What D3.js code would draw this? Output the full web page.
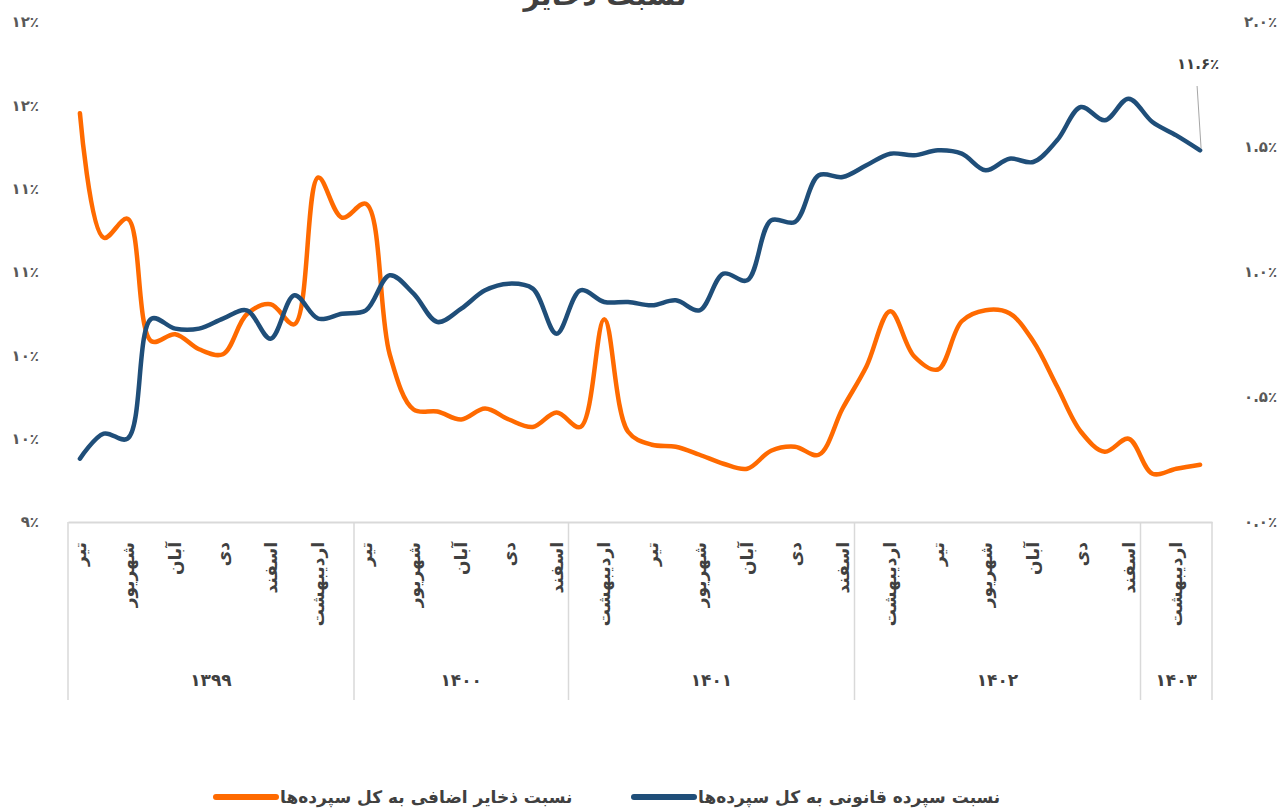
<!DOCTYPE html>
<html>
<head>
<meta charset="utf-8">
<script src="https://cdn.jsdelivr.net/npm/d3@7"></script>
<style>
  body { margin: 0; background: #fff; }
  svg { display: block; font-family: "DejaVu Sans", sans-serif; }
</style>
</head>
<body>
<div id="chart"></div>
<script>
// categories (months, grouped by year as in the source chart)
const months = [
  'تیر', 'مرداد', 'شهریور', 'مهر', 'آبان', 'آذر', 'دی', 'بهمن', 'اسفند', 'فروردین', 'اردیبهشت', 'خرداد',
  'تیر', 'مرداد', 'شهریور', 'مهر', 'آبان', 'آذر', 'دی', 'بهمن', 'اسفند',
  'فروردین', 'اردیبهشت', 'خرداد', 'تیر', 'مرداد', 'شهریور', 'مهر', 'آبان', 'آذر', 'دی', 'بهمن', 'اسفند',
  'فروردین', 'اردیبهشت', 'خرداد', 'تیر', 'مرداد', 'شهریور', 'مهر', 'آبان', 'آذر', 'دی', 'بهمن', 'اسفند',
  'فروردین', 'اردیبهشت', 'خرداد'
];
const yearLabels = ['۱۳۹۹', '۱۴۰۰', '۱۴۰۱', '۱۴۰۲', '۱۴۰۳'];
const yearSpans = [12, 9, 12, 12, 3];

// left axis: legal reserves / deposits (%)
const legalRatio = [
  9.38, 9.53, 9.50, 10.22, 10.16, 10.16, 10.22, 10.27, 10.10, 10.36, 10.22, 10.25,
  10.27, 10.48, 10.37, 10.20, 10.28, 10.39, 10.43, 10.40, 10.13,
  10.39, 10.32, 10.32, 10.30, 10.33, 10.27, 10.49, 10.45, 10.81, 10.80, 11.08, 11.07,
  11.14, 11.21, 11.20, 11.23, 11.21, 11.11, 11.18, 11.16, 11.29, 11.49, 11.41, 11.54,
  11.40, 11.32, 11.23
];
// right axis: excess reserves / deposits (%)
const excessRatio = [
  1.635, 1.137, 1.213, 0.723, 0.751, 0.691, 0.671, 0.831, 0.871, 0.791, 1.378, 1.217,
  1.273, 0.670, 0.450, 0.442, 0.410, 0.454, 0.410, 0.380, 0.438,
  0.380, 0.811, 0.361, 0.309, 0.301, 0.269, 0.233, 0.213, 0.285, 0.301, 0.269, 0.454,
  0.622, 0.843, 0.663, 0.610, 0.803, 0.847, 0.835, 0.723, 0.542, 0.361, 0.281, 0.333,
  0.193, 0.213, 0.229
];
const leftTicks = [9, 9.5, 10, 10.5, 11, 11.5, 12];
const rightTicks = [0, 0.5, 1, 1.5, 2];
const lastLabel = '۱۱.۶٪';

const seriesNames = ['نسبت ذخایر اضافی به کل سپرده‌ها', 'نسبت سپرده قانونی به کل سپرده‌ها'];
const colors = ['#FF6A00', '#1F4E79'];

const fa = s => String(s).replace(/\d/g, d => '۰۱۲۳۴۵۶۷۸۹'[d]);

const width = 1284, height = 811;
const plotLeft = 68, plotRight = 1212, plotTop = 22, plotBottom = 522;

const svg = d3.select('#chart').append('svg')
  .attr('width', width).attr('height', height);

const idx = d3.range(months.length);
const x = d3.scaleBand().domain(idx).range([plotLeft, plotRight]);
const cx = i => x(i) + x.bandwidth() / 2;
const yL = d3.scaleLinear().domain([9, 12]).range([plotBottom, plotTop]);
const yR = d3.scaleLinear().domain([0, 2]).range([plotBottom, plotTop]);

// title (cut off at top in the source)
svg.append('text')
  .attr('x', 605).attr('y', 5)
  .attr('text-anchor', 'middle')
  .style('font-size', '28px').style('font-weight', 'bold')
  .style('fill', '#404040')
  .text('نسبت ذخایر');

// left axis
const axL = svg.append('g')
  .attr('transform', `translate(${plotLeft - 26},0)`)
  .call(d3.axisLeft(yL).tickValues(leftTicks).tickSize(0)
    .tickFormat(d => fa(Math.round(d)) + '٪'));
axL.select('.domain').remove();
axL.selectAll('text')
  .style('font-size', '15px').style('font-weight', 'bold').style('fill', '#595959')
  .attr('font-family', 'DejaVu Sans');

// right axis
const axR = svg.append('g')
  .attr('transform', `translate(${plotRight + 29},0)`)
  .call(d3.axisRight(yR).tickValues(rightTicks).tickSize(0)
    .tickFormat(d => fa(d.toFixed(1)) + '٪'));
axR.select('.domain').remove();
axR.selectAll('text')
  .style('font-size', '15px').style('font-weight', 'bold').style('fill', '#595959')
  .attr('font-family', 'DejaVu Sans');

// category axis with month labels on every second category
const axB = svg.append('g')
  .attr('transform', `translate(0,${plotBottom})`)
  .call(d3.axisBottom(x).tickValues(idx.filter(i => i % 2 === 0)).tickSize(0)
    .tickFormat(i => months[i]));
axB.select('.domain').attr('stroke', '#d9d9d9').attr('stroke-width', 2);
axB.selectAll('text')
  .attr('transform', 'rotate(-90)')
  .attr('text-anchor', 'end')
  .attr('x', -20).attr('y', 0).attr('dy', '0.35em')
  .attr('font-family', 'DejaVu Sans')
  .style('font-size', '17px').style('font-weight', 'bold').style('fill', '#404040');

// year groups
let start = 0;
const groups = yearSpans.map((n, k) => {
  const g = { label: yearLabels[k], x0: x(start), x1: x(start + n - 1) + x.bandwidth() };
  start += n;
  return g;
});
const bounds = [plotLeft].concat(groups.map(g => g.x1));
svg.append('g').selectAll('line').data(bounds).join('line')
  .attr('x1', d => d).attr('x2', d => d)
  .attr('y1', plotBottom).attr('y2', 700)
  .attr('stroke', '#d9d9d9').attr('stroke-width', 1.5);
svg.append('g').selectAll('text').data(groups).join('text')
  .attr('x', d => (d.x0 + d.x1) / 2).attr('y', 680)
  .attr('dy', '0.35em').attr('text-anchor', 'middle')
  .style('font-size', '17px').style('font-weight', 'bold').style('fill', '#404040')
  .text(d => d.label);

// lines
const curve = d3.curveCatmullRom.alpha(0.5);
const lineL = d3.line().x((d, i) => cx(i)).y(d => yL(d)).curve(curve);
const lineR = d3.line().x((d, i) => cx(i)).y(d => yR(d)).curve(curve);

svg.append('path').datum(excessRatio)
  .attr('d', lineR).attr('fill', 'none')
  .attr('stroke', colors[0]).attr('stroke-width', 4.5)
  .attr('stroke-linejoin', 'round').attr('stroke-linecap', 'round');
svg.append('path').datum(legalRatio)
  .attr('d', lineL).attr('fill', 'none')
  .attr('stroke', colors[1]).attr('stroke-width', 4.5)
  .attr('stroke-linejoin', 'round').attr('stroke-linecap', 'round');

// data label on the last point of the blue series
const lastI = legalRatio.length - 1;
const px = cx(lastI), py = yL(legalRatio[lastI]);
svg.append('line')
  .attr('x1', px - 3).attr('y1', 86).attr('x2', px + 1).attr('y2', py - 2)
  .attr('stroke', '#a6a6a6').attr('stroke-width', 1);
svg.append('text')
  .attr('x', px - 2).attr('y', 64).attr('dy', '0.35em')
  .attr('text-anchor', 'middle')
  .style('font-size', '15px').style('font-weight', 'bold').style('fill', '#404040')
  .text(lastLabel);

// legend
const legend = [
  { name: seriesNames[0], color: colors[0], x: 216 },
  { name: seriesNames[1], color: colors[1], x: 634 }
];
const lg = svg.append('g').selectAll('g').data(legend).join('g')
  .attr('transform', d => `translate(${d.x},797)`);
lg.append('line')
  .attr('x1', 0).attr('x2', 60).attr('y1', 0).attr('y2', 0)
  .attr('stroke', d => d.color).attr('stroke-width', 6).attr('stroke-linecap', 'round');
lg.append('text')
  .attr('x', 64).attr('dy', '0.35em')
  .style('font-size', '17px').style('font-weight', 'bold').style('fill', '#404040')
  .text(d => d.name);
</script>
</body>
</html>
